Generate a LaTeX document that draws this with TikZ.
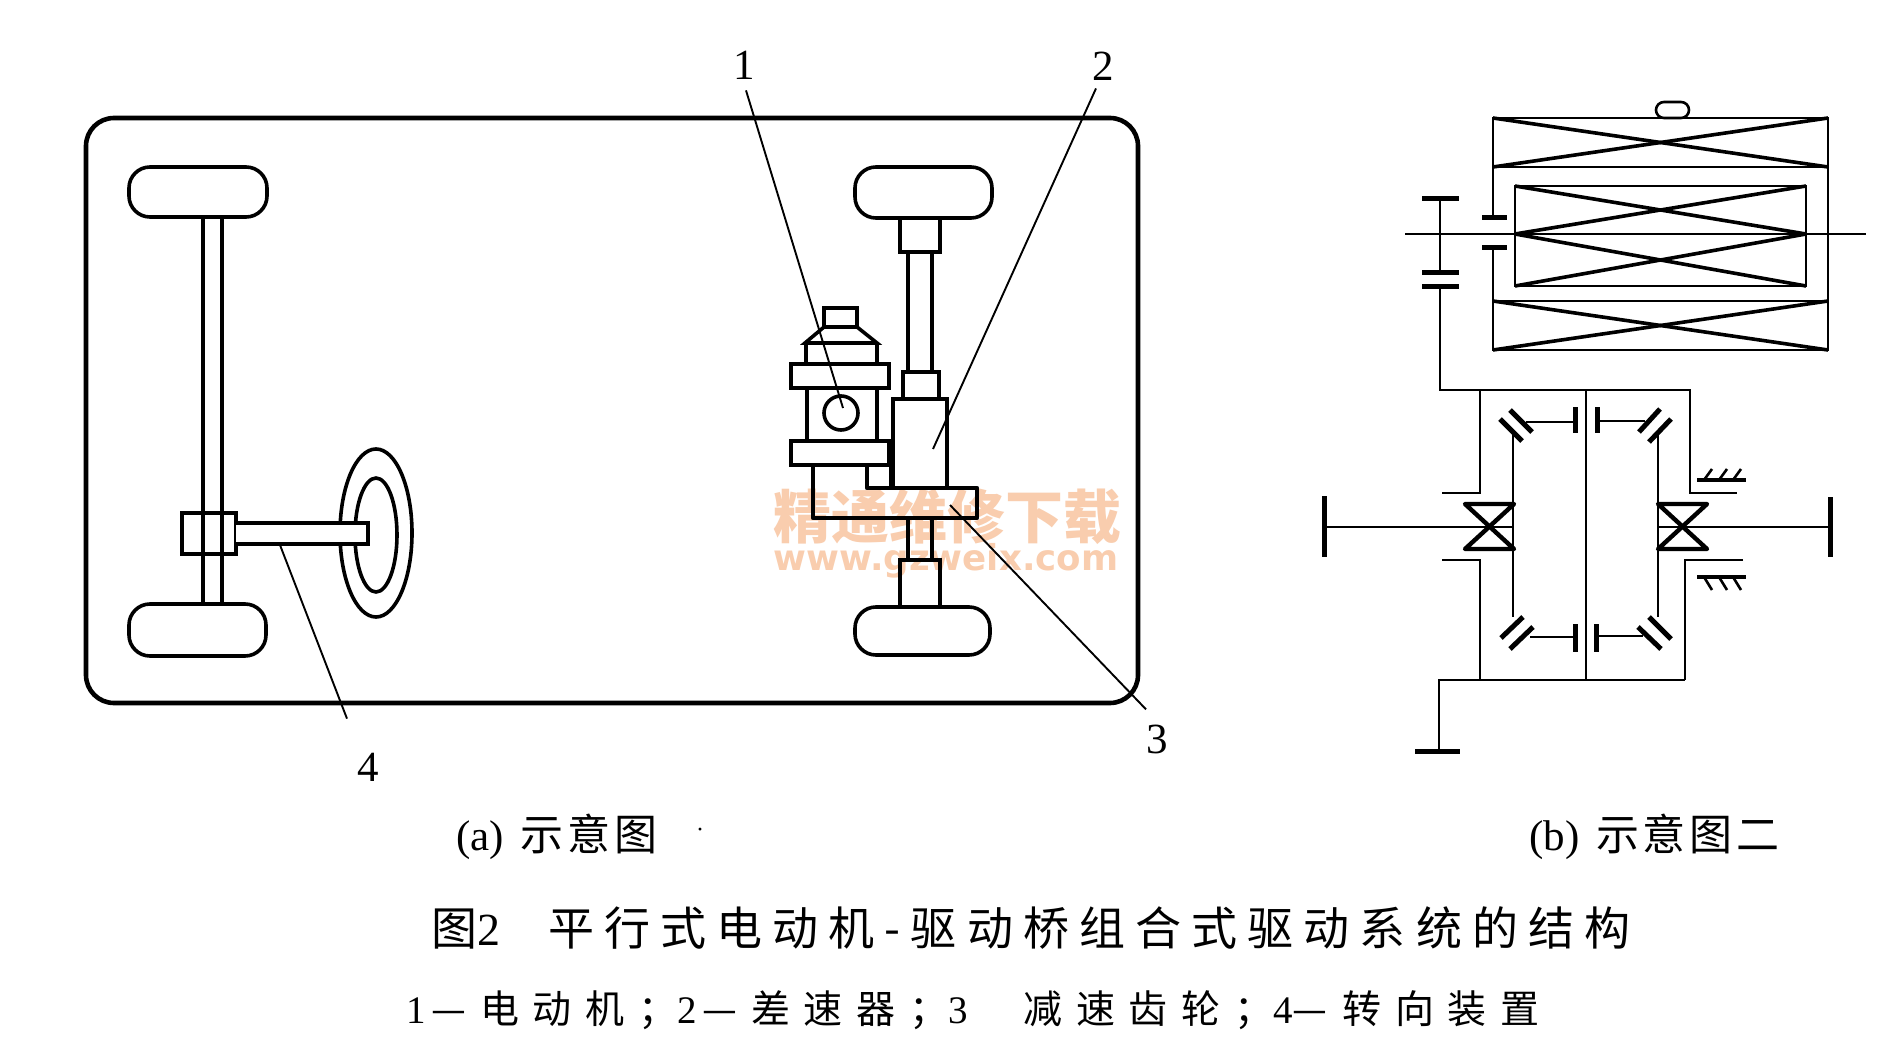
\documentclass[tikz,border=0pt]{standalone}
\usepackage{fontspec}
\usepackage{xcolor}
\setmainfont{Liberation Serif}
\newfontfamily\cjk{Noto Sans CJK SC}
\newfontfamily\cjktitle[LetterSpace=22]{Noto Sans CJK SC}
\newfontfamily\cjkline[LetterSpace=35]{Noto Sans CJK SC}
\newfontfamily\cjksub[LetterSpace=9]{Noto Sans CJK SC}
\newfontfamily\markurl{DejaVu Sans}
\definecolor{markorange}{HTML}{F9CDAE}
\tikzset{
	outline/.style={line width=3.6pt},
	frameline/.style={line width=4.6pt},
	thinline/.style={line width=2.6pt},
	gearbar/.style={line width=5pt},
	leader/.style={line width=1.9pt},
	numlabel/.style={inner sep=0pt,font=\fontsize{43}{46}\selectfont},
	subcap/.style={inner sep=0pt,anchor=west,font=\fontsize{43}{46}\selectfont},
	titlecap/.style={inner sep=0pt,anchor=west,font=\fontsize{46}{50}\selectfont},
	linecap/.style={inner sep=0pt,anchor=west,font=\fontsize{39}{44}\selectfont},
}
\begin{document}
\begin{tikzpicture}[x=1pt,y=-1pt]
	\useasboundingbox[fill=white] (0,0) rectangle (1891,1059);

	\node[text=markorange,inner sep=0pt,font=\fontsize{58}{60}\selectfont\cjk\bfseries] (markcn) at (947,517) {精通维修下载};
	\node[text=markorange,inner sep=0pt,anchor=base,text height=18pt,text depth=6pt,font=\fontsize{35.6}{37}\selectfont\markurl\bfseries] (markweb) at (946,570) {www.gzweix.com};

	\draw[frameline,rounded corners=28pt] (86,118) rectangle (1138,703);

	\draw[outline,rounded corners=21pt] (129,167) rectangle (267,217);
	\draw[outline,rounded corners=21pt] (129,604) rectangle (266,656);
	\draw[outline] (203,217)--(203,604);
	\draw[outline] (222,217)--(222,604);
	\draw[outline] (182,513) rectangle (236,554);
	\draw[outline] (376,533) ellipse (36 and 84);
	\draw[outline] (376,535) ellipse (21 and 57);
	\draw[outline,fill=white] (236,523)--(368,523)--(368,544)--(236,544);

	\draw[outline,rounded corners=21pt] (855,167) rectangle (992,218);
	\draw[outline] (900,218) rectangle (940,252);
	\draw[outline] (908,252)--(908,372);
	\draw[outline] (932,252)--(932,372);
	\draw[outline] (903,372) rectangle (939,399);
	\draw[frameline] (893,399) rectangle (947,488);

	\draw[outline] (824,327)--(824,308)--(857,308)--(857,327);
	\draw[outline] (805,343)--(824,327)--(857,327)--(877,343)--cycle;
	\draw[outline] (806,343)--(806,364);
	\draw[outline] (877,343)--(877,364);
	\draw[frameline] (791,364) rectangle (889,388);
	\draw[outline] (807,388)--(807,441);
	\draw[outline] (877,388)--(877,441);
	\draw[outline] (841,413) circle (17);
	\draw[frameline] (791,441) rectangle (889,465);
	\draw[line width=5pt] (891,441)--(891,488);

	\draw[frameline,line join=round] (813,465)--(813,518)--(977,518)--(977,488)--(867,488)--(867,465);
	\draw[outline] (908,518)--(908,560);
	\draw[outline] (932,518)--(932,560);
	\draw[outline] (900,560) rectangle (940,607);
	\draw[outline,rounded corners=21pt] (855,607) rectangle (990,655);

	\node[numlabel] (num1) at (744,65) {1};
	\node[numlabel] (num2) at (1103,66) {2};
	\node[numlabel] (num3) at (1157,739) {3};
	\node[numlabel] (num4) at (368,767) {4};
	\coordinate (tip1) at (843,408);
	\coordinate (tip2) at (933,449);
	\coordinate (tip3) at (950,505);
	\coordinate (tip4) at (280,545);
	\draw[leader] (num1.south)++(2,11)--(tip1);
	\draw[leader] (num2.south)++(-7,8)--(tip2);
	\draw[leader] (num3.north)++(-11,-15)--(tip3);
	\draw[leader] (num4.north)++(-21,-34)--(tip4);

	\draw[thinline,rounded corners=8pt] (1656,102) rectangle (1689,118);
	\foreach \xa/\xb/\ya/\yb in {1493/1828/118/167,1493/1828/301/350,1515/1806/186/234,1515/1806/234/286}{
		\draw[thinline] (\xa,\ya) rectangle (\xb,\yb);
		\draw[outline] (\xa,\ya)--(\xb,\yb);
		\draw[outline] (\xa,\yb)--(\xb,\ya);
	}
	\draw[thinline] (1493,167)--(1493,218);
	\draw[thinline] (1493,248)--(1493,301);
	\draw[thinline] (1828,167)--(1828,301);
	\draw[gearbar] (1482,218)--(1507,218);
	\draw[gearbar] (1482,248)--(1507,248);
	\draw[thinline] (1405,234)--(1866,234);

	\draw[gearbar] (1422,199)--(1459,199);
	\draw[thinline] (1440,199)--(1440,273);
	\draw[gearbar] (1422,273)--(1459,273);
	\draw[gearbar] (1422,287)--(1459,287);
	\draw[thinline] (1440,287)--(1440,390)--(1690,390)--(1690,493)--(1737,493);
	\draw[thinline] (1442,493)--(1480,493)--(1480,390);
	\draw[thinline] (1586,390)--(1586,680);
	\draw[thinline] (1442,560)--(1480,560)--(1480,680);
	\draw[thinline] (1743,560)--(1685,560)--(1685,680);
	\draw[thinline] (1439,751)--(1439,680)--(1685,680);
	\draw[gearbar] (1415,751)--(1460,751);

	\draw[gearbar] (1324,496)--(1324,557);
	\draw[gearbar] (1830,497)--(1830,557);
	\draw[thinline] (1324,527)--(1513,527);
	\draw[thinline] (1658,527)--(1830,527);
	\draw[thinline] (1513,435)--(1513,617);
	\draw[thinline] (1658,435)--(1658,617);
	\draw[line width=4.4pt,line join=round] (1465,504)--(1514,504)--(1465,549)--(1514,549)--cycle;
	\draw[line width=4.4pt,line join=round] (1658,504)--(1707,504)--(1658,549)--(1707,549)--cycle;

	\foreach \xa/\ya/\xb/\yb in {1510/410/1532/432,1500/419/1522/441,1660/409/1639/432,1671/419/1649/442,1533/627/1510/649,1523/617/1501/638,1638/627/1661/649,1649/617/1671/639}{
		\draw[gearbar] (\xa,\ya)--(\xb,\yb);
	}
	\draw[thinline] (1526,422)--(1575,422);
	\draw[thinline] (1597,421)--(1645,421);
	\draw[thinline] (1530,637)--(1575,637);
	\draw[thinline] (1596,636)--(1643,636);
	\draw[gearbar] (1575,407)--(1575,433);
	\draw[gearbar] (1597,407)--(1597,433);
	\draw[gearbar] (1575,624)--(1575,652);
	\draw[gearbar] (1596,624)--(1596,652);

	\draw[line width=3.6pt] (1697,480)--(1746,480);
	\draw[line width=3.6pt] (1697,577)--(1746,577);
	\foreach \xa in {1704,1719,1733}{
		\draw[thinline] (\xa,480)--(\xa+8,469);
		\draw[thinline] (\xa,577)--(\xa+8,590);
	}

	\node[subcap] (capa) at (456,837) {(a)\hspace{6pt} {\cjksub 示意图}};
	\node[subcap,font=\fontsize{24}{26}\selectfont] (speck) at (696,833) {·};
	\node[subcap] (capb) at (1529,837) {(b)\hspace{6pt} {\cjksub 示意图二}};
	\node[titlecap] (title) at (431,928) {{\cjktitle 图}2\hspace{48pt}{\cjktitle 平行式电动机-驱动桥组合式驱动系统的结构}};
	\node[linecap] (legend) at (406,1010) {1\hspace{6pt}{\cjkline —电动机；}2\hspace{6pt}{\cjkline —差速器；}3\hspace{56pt}{\cjkline 减速齿轮；}4{\cjkline —}\hspace{15pt}{\cjkline 转向装置}};
\end{tikzpicture}
\end{document}
